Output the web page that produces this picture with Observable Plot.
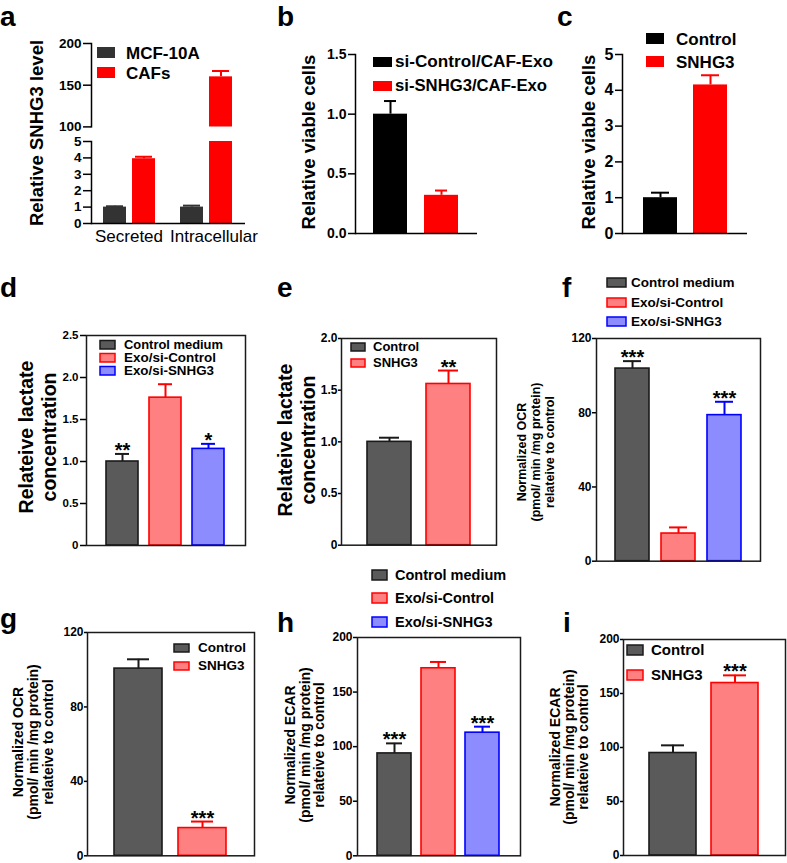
<!DOCTYPE html>
<html>
<head>
<meta charset="utf-8">
<script src="https://cdn.jsdelivr.net/npm/d3@7"></script>
<script src="https://cdn.jsdelivr.net/npm/@observablehq/plot@0.6"></script>
<style>
  body { margin: 0; background: #fff; }
  #fig { position: relative; width: 787px; height: 863px; overflow: hidden; background: #fff; }
</style>
</head>
<body>
<div id="fig"></div>
<script>
// ---------------- DATA ----------------
// Panel a
const aGroups = ["Secreted", "Intracellular"];
const aSeries = ["MCF-10A", "CAFs"];
const aMCF = [1.0, 1.0];
const aMCFErr = [0.05, 0.09];
const aCAFs = [3.95, 160];
const aCAFsErr = [0.12, 7];
const aTicksUpper = [100, 150, 200];
const aTicksLower = [0, 1, 2, 3, 4, 5];
// Panel b
const bCats = ["si-Control/CAF-Exo", "si-SNHG3/CAF-Exo"];
const bMean = [1.0, 0.32];
const bErr = [0.11, 0.04];
const bTicks = [0, 0.5, 1.0, 1.5];
// Panel c
const cCats = ["Control", "SNHG3"];
const cMean = [1.0, 4.15];
const cErr = [0.14, 0.27];
const cTicks = [0, 1, 2, 3, 4, 5];
// Panel d
const dCats = ["Control medium", "Exo/si-Control", "Exo/si-SNHG3"];
const dMean = [1.0, 1.76, 1.15];
const dErr = [0.09, 0.16, 0.06];
const dStars = ["**", "", "*"];
const dTicks = [0, 0.5, 1.0, 1.5, 2.0, 2.5];
// Panel e
const eCats = ["Control", "SNHG3"];
const eMean = [1.0, 1.56];
const eErr = [0.04, 0.13];
const eStars = ["", "**"];
const eTicks = [0, 0.5, 1.0, 1.5, 2.0];
// Panel f
const fCats = ["Control medium", "Exo/si-Control", "Exo/si-SNHG3"];
const fMean = [103.8, 14.9, 78.7];
const fErr = [4.0, 3.3, 7.2];
const fStars = ["***", "", "***"];
const fTicks = [0, 40, 80, 120];
// Panel g
const gCats = ["Control", "SNHG3"];
const gMean = [100.6, 14.9];
const gErr = [5.0, 3.5];
const gStars = ["", "***"];
const gTicks = [0, 40, 80, 120];
// Panel h
const hCats = ["Control medium", "Exo/si-Control", "Exo/si-SNHG3"];
const hMean = [93.8, 171.8, 112.8];
const hErr = [9.2, 5.8, 5.5];
const hStars = ["***", "", "***"];
const hTicks = [0, 50, 100, 150, 200];
// Panel i
const iCats = ["Control", "SNHG3"];
const iMean = [94.9, 159.7];
const iErr = [7.1, 7.1];
const iStars = ["", "***"];
const iTicks = [0, 50, 100, 150, 200];

// ---------------- STYLES ----------------
const FONT = "'Liberation Sans', Arial, Helvetica, sans-serif";
const greyFill = "#5a5a5a", redFill = "#ff8080", blueFill = "#8c8cff";
const greyStroke = "#1a1a1a", redStroke = "#ff0000", blueStroke = "#0000ff";
const three = {fills: [greyFill, redFill, blueFill], strokes: [greyStroke, redStroke, blueStroke]};
const two = {fills: [greyFill, redFill], strokes: [greyStroke, redStroke]};
const solid2 = {fills: ["#000000", "#ff0000"], strokes: ["#000000", "#ff0000"]};

const fig = document.getElementById("fig");
const M = {l: 50, r: 12, t: 12, b: 6};
const plotStyle = {background: "transparent", overflow: "visible", fontFamily: FONT, color: "#000"};

function mount(svg, x0, y0, ml, mt) {
  svg.style.position = "absolute";
  svg.style.left = (x0 - ml) + "px";
  svg.style.top = (y0 - mt) + "px";
  fig.appendChild(svg);
}

const fmt1 = d => d.toFixed(1);
const fmt1z = d => d === 0 ? "0" : d.toFixed(1);
const fmt0 = d => String(d);

function barPanel(o) {
  const [x0, x1, y0, y1] = o.frame;
  const rows = o.cats.map((c, i) => ({
    cat: c, mean: o.mean[i], err: o.err[i],
    fill: o.style.fills[i], stroke: o.style.strokes[i],
    star: o.stars ? o.stars[i] : ""
  }));
  const barOpts = {x: "cat", y: "mean", fill: "fill"};
  if (o.boxed) { barOpts.stroke = "stroke"; barOpts.strokeWidth = 1.6; }
  const marks = [
    Plot.barY(rows, barOpts),
    Plot.ruleX(rows, {x: "cat", y1: "mean", y2: d => d.mean + d.err, stroke: "stroke", strokeWidth: 2}),
    Plot.tickY(rows, {x: "cat", y: d => d.mean + d.err, stroke: "stroke", strokeWidth: 2, insetLeft: o.cap, insetRight: o.cap}),
    Plot.text(rows.filter(d => d.star), {x: "cat", y: d => d.mean + d.err, text: "star", lineAnchor: "bottom", dy: 3, fontSize: 20, fontWeight: "bold", fill: "#000"}),
    Plot.axisY({ticks: o.ticks, tickFormat: o.fmt, tickSize: o.tickSize, tickPadding: o.tickPad, fontSize: o.fs, fontWeight: "bold", label: null, strokeWidth: 1.5})
  ];
  if (o.boxed) marks.push(Plot.frame({stroke: "#1a1a1a", strokeWidth: 1.5}));
  else marks.push(Plot.frame({anchor: "left", stroke: "#000", strokeWidth: 1.5}), Plot.ruleY([o.domain[0]], {stroke: "#000", strokeWidth: 1.5}));
  const svg = Plot.plot({
    width: x1 - x0 + M.l + M.r,
    height: y1 - y0 + M.t + M.b,
    marginLeft: M.l, marginRight: M.r, marginTop: M.t, marginBottom: M.b,
    style: plotStyle,
    x: {domain: o.cats, paddingInner: o.pi, paddingOuter: o.po, axis: null},
    y: {domain: o.domain},
    color: {type: "identity"},
    marks
  });
  mount(svg, x0, y0, M.l, M.t);
}

// ---------------- PANEL a (broken axis: two stacked plots) ----------------
function panelA() {
  const rows = [];
  aGroups.forEach((g, gi) => {
    rows.push({group: g, series: aSeries[0], mean: aMCF[gi], err: aMCFErr[gi], color: "#333333"});
    rows.push({group: g, series: aSeries[1], mean: aCAFs[gi], err: aCAFsErr[gi], color: "#ff0000"});
  });
  const x0 = 90, x1 = 245;
  function part(domain, ticks, y0, y1, lower) {
    const mb = lower ? 28 : 4;
    const marks = [
      Plot.barY(rows, {fx: "group", x: "series", y: "mean", fill: "color", clip: true}),
      Plot.ruleX(rows, {fx: "group", x: "series", y1: "mean", y2: d => d.mean + d.err, stroke: "color", strokeWidth: 2, clip: true}),
      Plot.tickY(rows, {fx: "group", x: "series", y: d => d.mean + d.err, stroke: "color", strokeWidth: 2, insetLeft: 3, insetRight: 3, clip: true}),
      Plot.axisY({ticks, tickFormat: fmt0, tickSize: 8, tickPadding: 2, fontSize: 13.5, fontWeight: "bold", label: null, strokeWidth: 1.5}),
      Plot.frame({anchor: "left", facetAnchor: "left", stroke: "#000", strokeWidth: 1.5})
    ];
    if (lower) {
      marks.push(Plot.ruleY([domain[0]], {stroke: "#000", strokeWidth: 1.5}));
      // group labels under each facet
      marks.push(Plot.text([aGroups[0]], {fx: d => d, text: d => d, frameAnchor: "bottom", lineAnchor: "top", dy: 6, dx: -1, fontSize: 17, fill: "#000"}));
      marks.push(Plot.text([aGroups[1]], {fx: d => d, text: d => d, frameAnchor: "bottom", lineAnchor: "top", dy: 6, dx: 7, fontSize: 17, fill: "#000"}));
    }
    const svg = Plot.plot({
      width: x1 - x0 + M.l + M.r,
      height: y1 - y0 + M.t + mb,
      marginLeft: M.l, marginRight: M.r, marginTop: M.t, marginBottom: mb,
      style: plotStyle,
      fx: {domain: aGroups, padding: 0, axis: null},
      x: {domain: aSeries, paddingInner: 0.2, paddingOuter: 0.42, axis: null},
      y: {domain},
      color: {type: "identity"},
      marks
    });
    mount(svg, x0, y0, M.l, M.t);
  }
  part([100, 200], aTicksUpper, 43.3, 126.7, false);
  part([0, 5], aTicksLower, 140.7, 222.7, true);
}
panelA();

barPanel({cats: bCats, mean: bMean, err: bErr, style: solid2, domain: [0, 1.5], ticks: bTicks, fmt: fmt1,
  frame: [355, 477, 54, 233], pi: 0.33, po: 0.36, cap: 11, fs: 14, tickSize: 7, tickPad: 2, boxed: false});
barPanel({cats: cCats, mean: cMean, err: cErr, style: solid2, domain: [0, 5], ticks: cTicks, fmt: fmt0,
  frame: [622, 747, 54, 233], pi: 0.33, po: 0.40, cap: 8, fs: 16, tickSize: 7, tickPad: 2, boxed: false});
barPanel({cats: dCats, mean: dMean, err: dErr, stars: dStars, style: three, domain: [0, 2.5], ticks: dTicks, fmt: fmt1z,
  frame: [86, 245, 335, 545], pi: 0.25, po: 0.455, cap: 9, fs: 11.5, tickSize: 6, tickPad: 2, boxed: true});
barPanel({cats: eCats, mean: eMean, err: eErr, stars: eStars, style: two, domain: [0, 2], ticks: eTicks, fmt: fmt1z,
  frame: [341, 496, 338.3, 545], pi: 0.25, po: 0.43, cap: 12, fs: 12, tickSize: 3, tickPad: 1, boxed: true});
barPanel({cats: fCats, mean: fMean, err: fErr, stars: fStars, style: three, domain: [0, 120], ticks: fTicks, fmt: fmt0,
  frame: [596, 760, 338.3, 561], pi: 0.26, po: 0.39, cap: 8, fs: 12, tickSize: 4, tickPad: 1, boxed: true});
barPanel({cats: gCats, mean: gMean, err: gErr, stars: gStars, style: two, domain: [0, 120], ticks: gTicks, fmt: fmt0,
  frame: [87, 254, 631.7, 855], pi: 0.246, po: 0.415, cap: 13, fs: 12, tickSize: 3, tickPad: 1, boxed: true});
barPanel({cats: hCats, mean: hMean, err: hErr, stars: hStars, style: three, domain: [0, 200], ticks: hTicks, fmt: fmt0,
  frame: [357, 520, 636.7, 855], pi: 0.22, po: 0.44, cap: 9, fs: 12, tickSize: 4, tickPad: 1, boxed: true});
barPanel({cats: iCats, mean: iMean, err: iErr, stars: iStars, style: two, domain: [0, 200], ticks: iTicks, fmt: fmt0,
  frame: [623, 785, 639, 855], pi: 0.24, po: 0.41, cap: 12, fs: 12, tickSize: 3, tickPad: 1, boxed: true});

// ---------------- OVERLAY: panel letters, axis titles, legends ----------------
const ov = d3.create("svg").attr("width", 787).attr("height", 863)
  .style("position", "absolute").style("left", "0px").style("top", "0px")
  .style("font-family", FONT).style("overflow", "visible");

function letter(t, x, y) {
  ov.append("text").attr("x", x).attr("y", y).attr("font-size", 28).attr("font-weight", "bold").text(t);
}
function vtitle(lines, bx, cy, fs, gap) {
  lines.forEach((l, i) => ov.append("text")
    .attr("transform", `translate(${bx + i * gap},${cy}) rotate(-90)`)
    .attr("text-anchor", "middle").attr("font-size", fs).attr("font-weight", "bold").text(l));
}
function legend(labels, fills, strokes, sx, sw, sh, tx, bases, fs, sOff, widths) {
  labels.forEach((lab, i) => {
    const b = bases[i];
    ov.append("rect").attr("x", sx).attr("y", b - sh - (sOff || 0)).attr("width", sw).attr("height", sh)
      .attr("fill", fills[i]).attr("stroke", strokes ? strokes[i] : "none").attr("stroke-width", strokes ? 1.5 : 0);
    const t = ov.append("text").attr("x", tx).attr("y", b).attr("font-size", fs).attr("font-weight", "bold").text(lab);
    if (widths) t.attr("textLength", widths[i]).attr("lengthAdjust", "spacingAndGlyphs");
  });
}

letter("a", 0, 26); letter("b", 277, 26); letter("c", 557, 26);
letter("d", 0, 297); letter("e", 277, 297); letter("f", 562, 297);
letter("g", 0, 628); letter("h", 277, 632); letter("i", 563, 632);

vtitle(["Relative SNHG3 level"], 43, 133, 18.5, 0);
vtitle(["Relative viable cells"], 315, 142, 18.5, 0);
vtitle(["Relative viable cells"], 595, 142, 18.5, 0);
vtitle(["Relateive lactate", "concentration"], 33, 437, 19.5, 23);
vtitle(["Relateive lactate", "concentration"], 292, 440, 19.5, 23);
const ocr = ["Normalized OCR", "(pmol/ min /mg protein)", "relateive to control"];
const ecar = ["Normalized ECAR", "(pmol/ min /mg protein)", "relateive to control"];
vtitle(ocr, 526, 452, 12.5, 14);
vtitle(ocr, 23, 742, 14, 15);
vtitle(ecar, 295, 745, 14, 14.5);
vtitle(ecar, 560, 747, 14, 14);

legend(aSeries, ["#333333", "#ff0000"], null, 97, 18, 11, 126, [59, 79], 17, 1);
legend(bCats, solid2.fills, null, 373, 19, 10, 395, [67, 91], 16, 0, [158, 152]);
legend(cCats, solid2.fills, null, 646, 18, 11, 676, [45, 68], 17, 1);
legend(dCats, three.fills, three.strokes, 100, 15, 8.5, 124, [349, 362, 375], 12.5, 0, [99, 92, 90]);
legend(eCats, two.fills, two.strokes, 351, 14, 8, 373, [351, 367], 13, 0);
legend(fCats, three.fills, three.strokes, 607, 19, 9, 631, [287, 307, 326], 13.5, 0);
legend(gCats, two.fills, two.strokes, 174, 15, 8, 198, [652, 670], 13.5, 0);
legend(hCats, three.fills, three.strokes, 372, 15, 10, 395, [580, 603, 627], 14.5, 0);
legend(iCats, two.fills, two.strokes, 627, 16, 10, 651, [655, 680], 15, 0);

fig.appendChild(ov.node());
</script>
</body>
</html>
